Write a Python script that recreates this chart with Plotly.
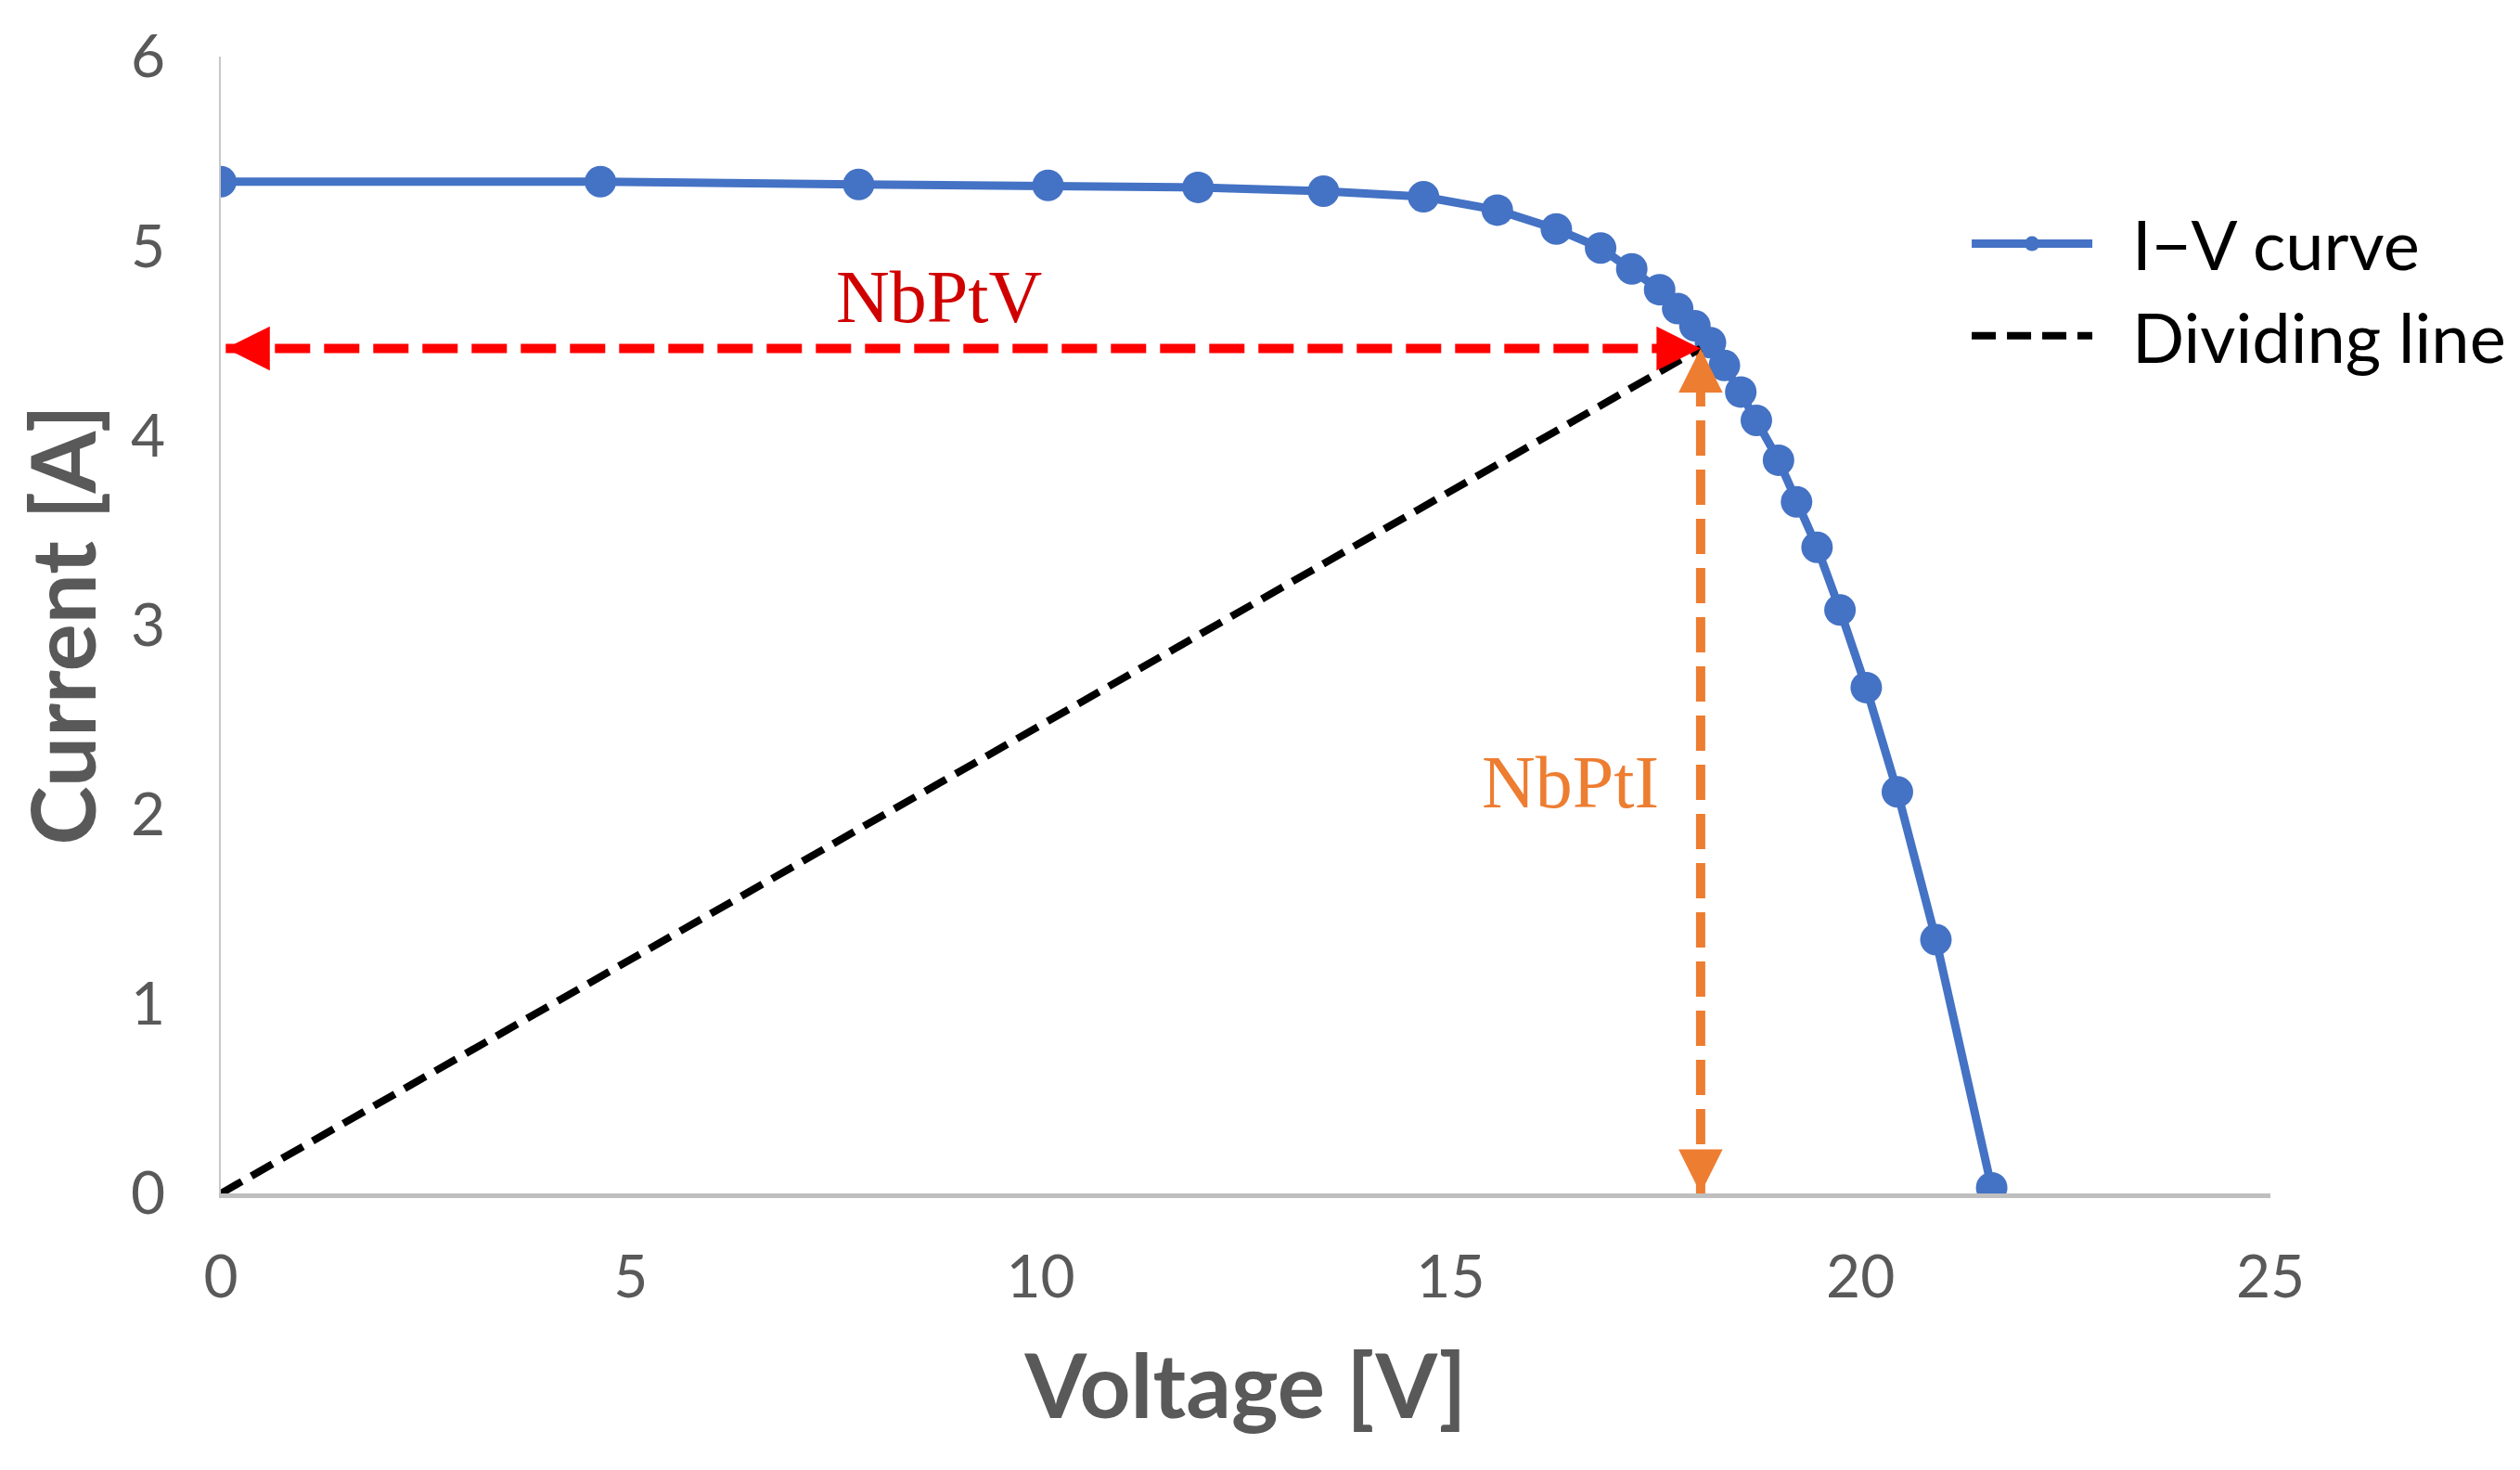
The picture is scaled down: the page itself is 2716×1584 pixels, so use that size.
import plotly.graph_objects as go

# I-V curve of the module
voltage = [0, 4.63, 7.78, 10.09, 11.92, 13.45, 14.67, 15.57, 16.29, 16.83,
           17.21, 17.55, 17.77, 17.98, 18.17, 18.34, 18.54, 18.73, 19.0,
           19.22, 19.47, 19.75, 20.07, 20.45, 20.92, 21.6]
current = [5.34, 5.34, 5.325, 5.32, 5.31, 5.29, 5.26, 5.19, 5.09, 4.99,
           4.88, 4.77, 4.67, 4.58, 4.49, 4.37, 4.23, 4.08, 3.87,
           3.65, 3.41, 3.08, 2.67, 2.12, 1.34, 0.03]

# dividing line goes from origin to this point
mpp_v = 18.05
mpp_i = 4.46
arrow_v_start = 0.06

labels = {'NbPtV': (8.76, 4.73), 'NbPtI': (16.46, 2.17)}

gray = '#595959'
blue = '#4472C4'
red = '#FF0000'
orange = '#ED7D31'

fig = go.Figure()

# horizontal arrow (NbPtV)
fig.add_trace(go.Scatter(
    x=[arrow_v_start, mpp_v], y=[mpp_i, mpp_i], mode='lines',
    line=dict(color=red, width=10, dash='38px,15px'),
    showlegend=False, hoverinfo='skip'))

# vertical arrow (NbPtI)
fig.add_trace(go.Scatter(
    x=[mpp_v, mpp_v], y=[0, mpp_i], mode='lines',
    line=dict(color=orange, width=10, dash='38px,15px'),
    showlegend=False, hoverinfo='skip'))

# main curve
fig.add_trace(go.Scatter(
    x=voltage, y=current, mode='lines+markers', name='\u00a0\u00a0I\u2212V curve',
    line=dict(color=blue, width=9),
    marker=dict(color=blue, size=34)))

# dividing line
fig.add_trace(go.Scatter(
    x=[0, mpp_v], y=[0, mpp_i], mode='lines', name='\u00a0\u00a0Dividing line',
    line=dict(color='black', width=8, dash='26px,12px')))

# arrow heads
heads = [
    (mpp_v, mpp_i, mpp_v - 0.4, mpp_i, red),
    (arrow_v_start, mpp_i, arrow_v_start + 0.4, mpp_i, red),
    (mpp_v, mpp_i, mpp_v, mpp_i - 0.17, orange),
    (mpp_v, 0, mpp_v, 0.17, orange),
]
for x, y, ax, ay, c in heads:
    fig.add_annotation(x=x, y=y, ax=ax, ay=ay, xref='x', yref='y',
                       axref='x', ayref='y', text='', showarrow=True,
                       arrowhead=2, arrowsize=0.95, arrowwidth=10,
                       arrowcolor=c, standoff=0)

fig.add_annotation(x=labels['NbPtV'][0], y=labels['NbPtV'][1], text='NbPtV',
                   showarrow=False,
                   font=dict(family='Liberation Serif', size=80, color='#D00000'))
fig.add_annotation(x=labels['NbPtI'][0], y=labels['NbPtI'][1], text='NbPtI',
                   showarrow=False,
                   font=dict(family='Liberation Serif', size=80, color=orange))

fig.update_layout(
    width=2716, height=1584,
    margin=dict(l=230, r=277, t=44, b=306),
    plot_bgcolor='white', paper_bgcolor='white',
    font=dict(family='Lato', color=gray),
    legend=dict(x=0.852, y=0.88, xanchor='left', yanchor='top',
                font=dict(family='Lato', size=74, color='black'),
                itemwidth=130, bgcolor='rgba(0,0,0,0)', tracegroupgap=0),
)

fig.update_xaxes(
    range=[0, 25], tickvals=[0, 5, 10, 15, 20, 25], showgrid=False,
    zeroline=False, showline=True, linecolor='#BFBFBF', linewidth=5,
    ticks='', ticklabelstandoff=30,
    tickfont=dict(family='Lato', size=64, color=gray),
    title=dict(text='<b>Voltage [V]</b>', standoff=52,
               font=dict(family='Lato', size=96, color=gray)))

fig.update_yaxes(
    range=[0, 6], tickvals=[0, 1, 2, 3, 4, 5, 6], showgrid=False,
    zeroline=False, showline=True, linecolor='#C8C8C8', linewidth=2,
    ticks='', ticklabelstandoff=45,
    tickfont=dict(family='Lato', size=64, color=gray),
    title=dict(text='<b>Current [A]</b>', standoff=36,
               font=dict(family='Lato', size=96, color=gray)))

fig.write_html("out.html")
